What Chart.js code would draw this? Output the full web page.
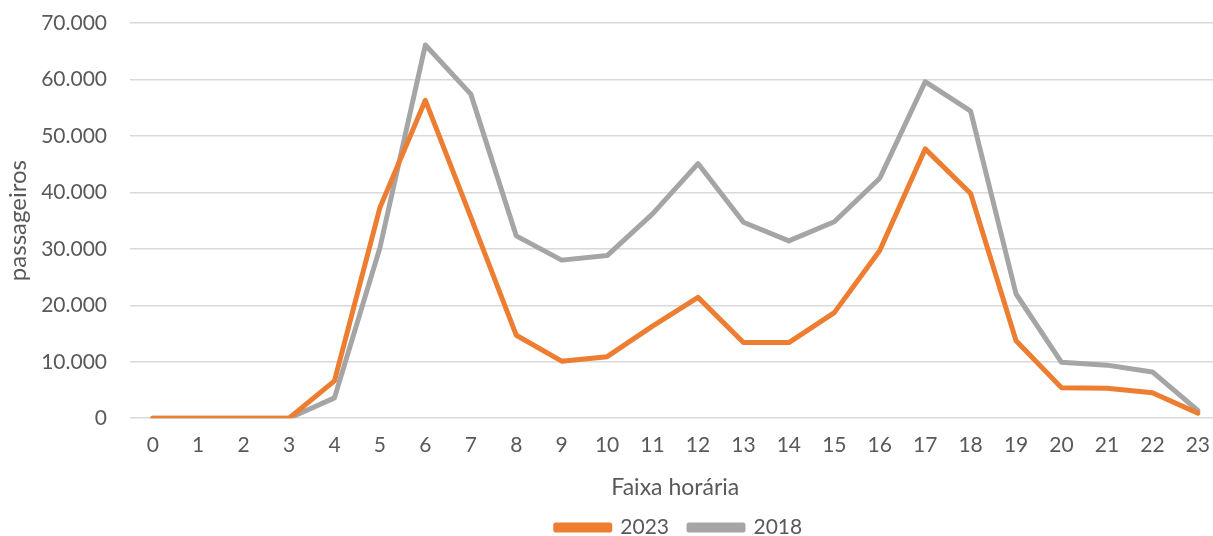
<!DOCTYPE html>
<html>
<head>
<meta charset="utf-8">
<script src="https://cdn.jsdelivr.net/npm/chart.js@4.4.1/dist/chart.umd.min.js"></script>
<style>
  html, body { margin: 0; padding: 0; background: #fff; overflow: hidden; }
  #wrap { width: 1224px; height: 536px; }
</style>
</head>
<body>
<div id="wrap"><canvas id="passChart" width="1224" height="536"></canvas></div>
<script>
// Faixa horária (hour of day)
const hours = ['0','1','2','3','4','5','6','7','8','9','10','11','12','13','14','15','16','17','18','19','20','21','22','23'];

// passengers per hour
const pass2023 = [0, 0, 0, 0, 6600, 37300, 56300, 35600, 14700, 10100, 10900, 16300, 21400, 13400, 13400, 18700, 29700, 47700, 39800, 13700, 5400, 5300, 4500, 900];
const pass2018 = [0, 0, 0, 0, 3600, 30200, 66100, 57400, 32300, 28000, 28800, 36200, 45100, 34700, 31400, 34800, 42500, 59600, 54400, 22000, 9900, 9400, 8200, 1400];

const yTicks = [0, 10000, 20000, 30000, 40000, 50000, 60000, 70000];

const orange = '#ED7D31';
const grey = '#A5A5A5';
const textColor = '#595959';
const fontFam = 'Lato, "Open Sans", sans-serif';

function fmt(v) {
    return String(v).replace(/\B(?=(\d{3})+(?!\d))/g, '.');
}

// nudge the legend under the centre of the original (wider) chart
const legendShift = {
    id: 'legendShift',
    afterLayout(chart) {
        const lg = chart.legend;
        const dx = 65;
        const h = lg.bottom - lg.top;
        lg.left += dx;
        lg.right += dx;
        lg.top = 497;
        lg.bottom = lg.top + h;
    }
};

const ctx = document.getElementById('passChart').getContext('2d');
new Chart(ctx, {
    type: 'line',
    data: {
        labels: hours,
        datasets: [
            {
                label: '2023',
                data: pass2023,
                borderColor: orange,
                backgroundColor: orange,
                borderWidth: 5,
                pointRadius: 0,
                tension: 0,
                borderJoinStyle: 'round',
                borderCapStyle: 'round',
                fill: false
            },
            {
                label: '2018',
                data: pass2018,
                borderColor: grey,
                backgroundColor: grey,
                borderWidth: 5,
                pointRadius: 0,
                tension: 0,
                borderJoinStyle: 'round',
                borderCapStyle: 'round',
                fill: false
            }
        ]
    },
    options: {
        responsive: false,
        animation: false,
        layout: { padding: { top: 0, left: 4, right: 0, bottom: -16 } },
        scales: {
            x: {
                offset: true,
                grid: { display: false, drawTicks: false },
                border: { display: false },
                ticks: { color: textColor, font: { family: fontFam, size: 21 }, padding: 14, maxRotation: 0, autoSkip: false },
                title: { display: true, text: 'Faixa horária', color: textColor, font: { family: fontFam, size: 23 }, padding: { top: 2, bottom: 0 } }
            },
            y: {
                min: 0,
                max: 70000,
                afterBuildTicks: axis => { axis.ticks = yTicks.map(v => ({ value: v })); },
                afterFit: axis => {
                    axis.width = 126;
                    axis.paddingTop = 23;
                    axis.paddingBottom = 0;
                },
                grid: { color: '#D9D9D9', lineWidth: 1.5, drawTicks: false },
                border: { display: false },
                ticks: { color: textColor, font: { family: fontFam, size: 21 }, padding: 23, callback: v => fmt(v) },
                title: { display: true, text: 'passageiros', color: textColor, font: { family: fontFam, size: 24 }, padding: { top: 0, bottom: 6 } }
            }
        },
        plugins: {
            legend: {
                position: 'bottom',
                align: 'center',
                labels: {
                    color: textColor,
                    font: { family: fontFam, size: 21 },
                    boxWidth: 54,
                    boxHeight: 5,
                    padding: 20
                }
            },
            tooltip: { enabled: false }
        }
    },
    plugins: [legendShift]
});
</script>
</body>
</html>
